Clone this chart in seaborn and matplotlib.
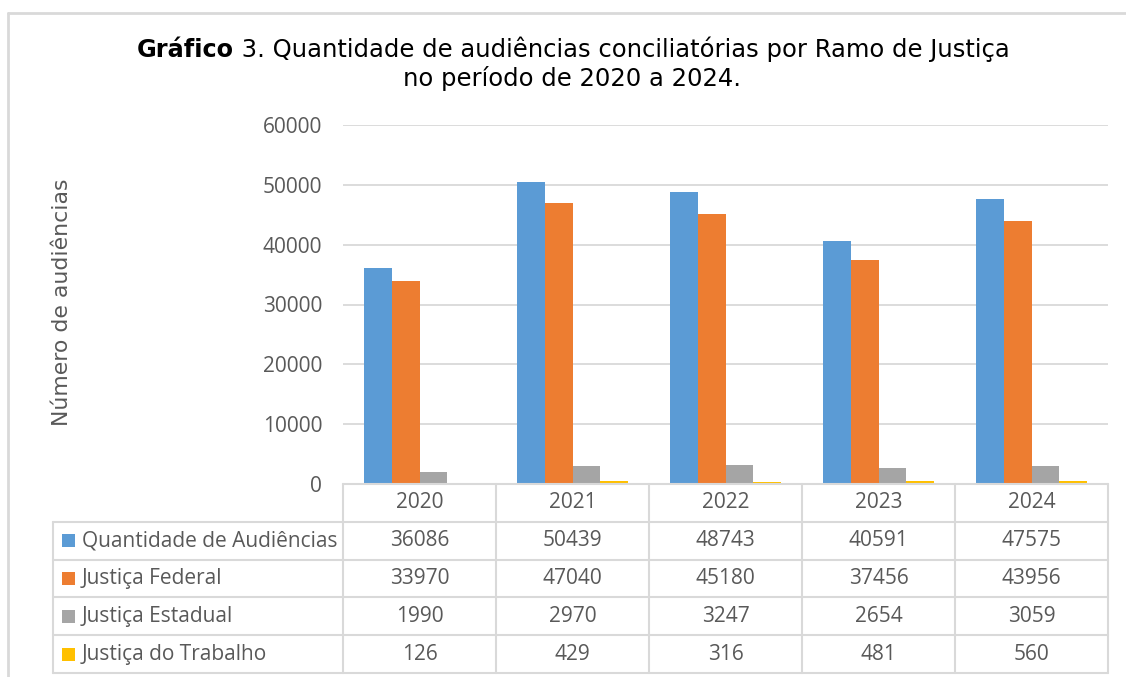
import numpy as np
import pandas as pd
import matplotlib
matplotlib.use("Agg")
import matplotlib.pyplot as plt
import seaborn as sns
from matplotlib.patches import Rectangle
from matplotlib.lines import Line2D

years = ["2020", "2021", "2022", "2023", "2024"]
series_names = ["Quantidade de Audiências", "Justiça Federal",
                "Justiça Estadual", "Justiça do Trabalho"]
quantidade = [36086, 50439, 48743, 40591, 47575]
federal = [33970, 47040, 45180, 37456, 43956]
estadual = [1990, 2970, 3247, 2654, 3059]
trabalho = [126, 429, 316, 481, 560]
colors = ["#5B9BD5", "#ED7D31", "#A5A5A5", "#FFC000"]

W, H = 1126, 677
text_grey = "#595959"
line_grey = "#D9D9D9"
table_font = "Open Sans"

sns.set_theme(style="white")
plt.rcParams['font.family'] = ['DejaVu Sans']

all_values = [quantidade, federal, estadual, trabalho]
df = pd.DataFrame({
    "Ano": years * len(series_names),
    "Serie": np.repeat(series_names, len(years)),
    "Valor": quantidade + federal + estadual + trabalho,
})

fig = plt.figure(figsize=(W / 100, H / 100), dpi=100)

# main bar axes
ax = fig.add_axes([343 / W, 1 - 484 / H, (1108 - 343) / W, (484 - 125) / H])
sns.barplot(data=df, x="Ano", y="Valor", hue="Serie", hue_order=series_names,
            palette=colors, width=0.72, saturation=1, linewidth=0,
            legend=False, ax=ax)
ax.set_ylim(0, 60000)
ax.set_xlim(-0.5, 4.5)
ax.set_yticks(range(0, 60001, 10000))
ax.yaxis.grid(True, color=line_grey, lw=1.3)
ax.set_axisbelow(True)
for s in ax.spines.values():
    s.set_visible(False)
ax.set_xticks([])
ax.set_xlabel("")
ax.set_ylabel("")
ax.tick_params(axis="y", length=0, pad=15, labelsize=15, labelcolor=text_grey)
for lbl in ax.get_yticklabels():
    lbl.set_fontfamily(table_font)

# y label
fig.text(62 / W, 1 - 302 / H, "Número de audiências", rotation=90,
         ha="center", va="center", fontsize=15.8, color=text_grey)

# data table below the axes
left_units = (343 - 53) / 153
tax = fig.add_axes([53 / W, 4 / H, (1108 - 53) / W, (673 - 484) / H])
tax.set_xlim(-0.5 - left_units, 4.5)
tax.set_ylim(5, 0)
tax.axis("off")
x_left = -0.5 - left_units
for i in range(6):
    tax.plot([i - 0.5, i - 0.5], [0, 5], color=line_grey, lw=1.5, clip_on=False)
tax.plot([x_left, x_left], [1, 5], color=line_grey, lw=1.5, clip_on=False)
tax.plot([-0.5, 4.5], [0, 0], color=line_grey, lw=1.5, clip_on=False)
for r in range(1, 6):
    tax.plot([x_left, 4.5], [r, r], color=line_grey, lw=1.5, clip_on=False)

for i, yr in enumerate(years):
    tax.text(i, 0.5, yr, ha="center", va="center", fontsize=15,
             color=text_grey, fontfamily=table_font)
for r, (name, vals, c) in enumerate(zip(series_names, all_values, colors)):
    row = r + 1
    tax.add_patch(Rectangle((x_left + 9 / 153, row + 0.5 - 0.17), 13 / 153, 0.34,
                            facecolor=c, edgecolor="none"))
    tax.text(x_left + 29 / 153, row + 0.5, name, ha="left", va="center",
             fontsize=15, color=text_grey, fontfamily=table_font)
    for i, v in enumerate(vals):
        tax.text(i, row + 0.5, str(v), ha="center", va="center", fontsize=15,
                 color=text_grey, fontfamily=table_font)

# outer chart frame (partly cropped in the original)
fig.add_artist(Line2D([8 / W, 8 / W], [0, 1 - 13 / H], transform=fig.transFigure,
                      color=line_grey, lw=2))
fig.add_artist(Line2D([8 / W, 1], [1 - 13 / H, 1 - 13 / H], transform=fig.transFigure,
                      color=line_grey, lw=2))

# title: bold lead word followed by regular text
t1 = fig.text(137 / W, 1 - 57 / H, "Gráfico", fontsize=17.3, fontweight="bold",
              color="black", ha="left", va="baseline")
ax.annotate(" 3. Quantidade de audiências conciliatórias por Ramo de Justiça",
            xy=(1, 0), xycoords=t1, ha="left", va="bottom",
            fontsize=17.5, color="black", annotation_clip=False)
fig.text(572 / W, 1 - 86 / H, "no período de 2020 a 2024.", fontsize=17.5,
         color="black", ha="center", va="baseline")

fig.savefig("out.png", dpi=100)
